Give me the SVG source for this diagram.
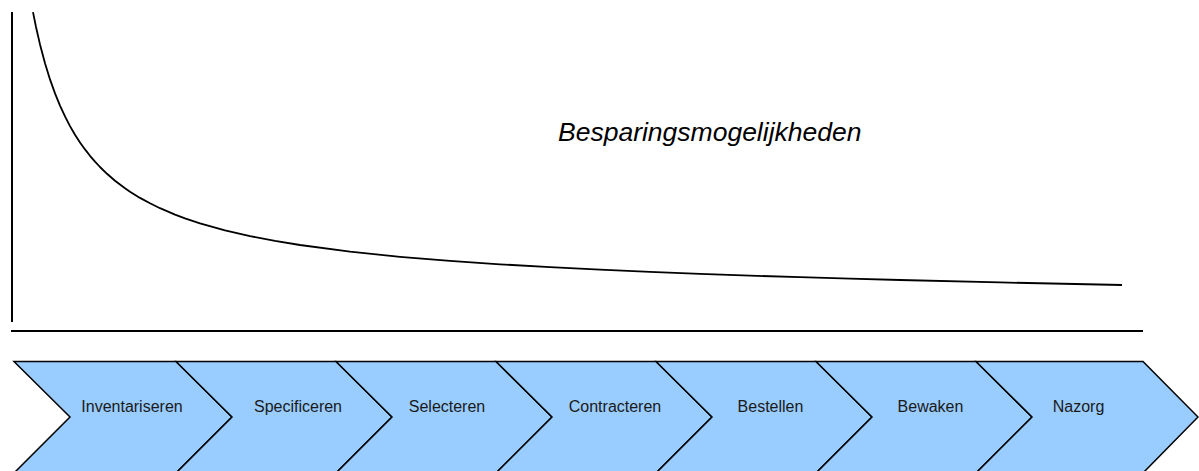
<svg xmlns="http://www.w3.org/2000/svg" width="1199" height="471" viewBox="0 0 1199 471">
<style>
.chev{fill:#99ccff;stroke:#000;stroke-width:1.5;stroke-linejoin:miter}
.lbl{font-family:"Liberation Sans",Arial,sans-serif;font-size:16px;fill:#1a1a1a;text-anchor:middle}
.axis{stroke:#000;stroke-width:2;fill:none}
.curve{stroke:#000;stroke-width:1.8;fill:none;stroke-linejoin:round}
.title{font-family:"Liberation Sans",Arial,sans-serif;font-size:26.5px;font-style:italic;fill:#000}
</style>
<rect width="1199" height="471" fill="#fff"/>
<g id="chart">
<line class="axis" x1="12" y1="12" x2="12" y2="322"/>
<line class="axis" x1="11" y1="331" x2="1143" y2="331"/>
<polyline class="curve" points="33,12.1 36,27 40,44.4 45,63.3 50,79.4 55,93.4 60,105.6 65,116.4 70,126.1 75,134.7 80,142.4 85,149.4 90,155.8 95,161.7 100,167 107,173.8 115,180.7 125,188.3 130,191.7 140,197.9 150,203.3 160,208.2 175,214.6 185,218.3 200,223.3 225,230.4 250,236.1 275,240.9 300,245 350,251.6 400,256.8 450,260.9 500,264.3 550,267.2 600,269.7 650,271.9 700,273.9 750,275.6 800,277.2 850,278.7 900,280 1000,282.4 1122,285"/>
<text class="title" x="558" y="141">Besparingsmogelijkheden</text>
</g>
<g id="connectors"></g>
<g id="step1"><polygon class="chev" points="14,361.5 176,361.5 232,417 176,473 14,473 70,417"/><text class="lbl" x="132" y="412">Inventariseren</text></g>
<g id="step2"><polygon class="chev" points="176,361.5 336,361.5 392,417 336,473 176,473 232,417"/><text class="lbl" x="298" y="412">Specificeren</text></g>
<g id="step3"><polygon class="chev" points="336,361.5 496,361.5 552,417 496,473 336,473 392,417"/><text class="lbl" x="447" y="412">Selecteren</text></g>
<g id="step4"><polygon class="chev" points="496,361.5 656,361.5 712,417 656,473 496,473 552,417"/><text class="lbl" x="615" y="412">Contracteren</text></g>
<g id="step5"><polygon class="chev" points="656,361.5 816,361.5 872,417 816,473 656,473 712,417"/><text class="lbl" x="770.5" y="412">Bestellen</text></g>
<g id="step6"><polygon class="chev" points="816,361.5 976,361.5 1032,417 976,473 816,473 872,417"/><text class="lbl" x="930.5" y="412">Bewaken</text></g>
<g id="step7"><polygon class="chev" points="976,361.5 1143,361.5 1198,417 1143,473 976,473 1032,417"/><text class="lbl" x="1078.5" y="412">Nazorg</text></g>
</svg>
